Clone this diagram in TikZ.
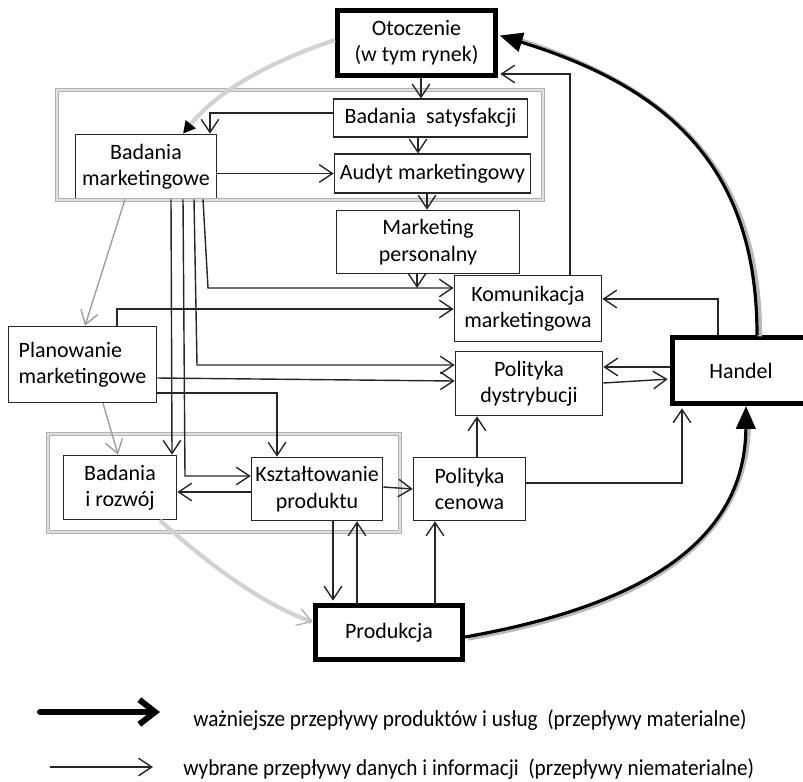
\documentclass[tikz,border=0pt]{standalone}
\usepackage{fontspec}
\setmainfont{Carlito}
\newfontfamily\legfont[FakeStretch=0.93]{Carlito}
\usepackage{tikz}
\usetikzlibrary{arrows.meta}
\usetikzlibrary{positioning}

\begin{document}
\begin{tikzpicture}[x=0.02cm,y=-0.02cm,
  box/.style={draw=black!85,line width=0.9pt,fill=white,align=center,inner sep=1pt,font=\fontsize{12.5}{15}\selectfont},
  bigbox/.style={box,draw=black,line width=2.6pt},
  grp/.style={draw=gray!60,line width=0.7pt,double=gray!25,double distance=1.4pt},
  flow/.style={draw=black!85,line width=0.8pt,-{Straight Barb[length=7.5pt,width=10pt]}},
  gflow/.style={draw=gray!75,line width=0.8pt,-{Straight Barb[length=7.5pt,width=10pt]}},
  mat/.style={draw=black,line width=1.8pt,-{Triangle[length=13pt,width=11pt]}},
  matsh/.style={draw=gray!55,line width=2.6pt},
  inf/.style={draw=gray!35,line width=2.4pt}]
\useasboundingbox (0,0) rectangle (803,781);

% the blocks
\node[bigbox,minimum width=3.17cm,minimum height=1.31cm] (oto) at (416.5,43) {Otoczenie\\(w tym rynek)};
\node[box,minimum width=3.88cm,minimum height=0.75cm] (bsat) at (430.5,118) {Badania\ \ satysfakcji};
\node[box,minimum width=3.92cm,minimum height=0.77cm] (aud) at (432.5,173.5) {Audyt marketingowy};
\node[box,minimum width=2.82cm,minimum height=1.28cm] (bm) at (146,166.5) {Badania\\marketingowe};
\node[box,minimum width=3.66cm,minimum height=1.26cm] (mp) at (428,242) {Marketing\\personalny};
\node[box,minimum width=2.94cm,minimum height=1.32cm] (kom) at (528,308.5) {Komunikacja\\marketingowa};
\node[box,minimum width=2.94cm,minimum height=1.28cm] (pd) at (529,383.5) {Polityka\\dystrybucji};
\node[bigbox,minimum width=2.75cm,minimum height=1.33cm] (han) at (741,370.5) {Handel};
\node[box,align=left,minimum width=2.96cm,minimum height=1.52cm] (pm) at (82.5,364.5) {Planowanie\\marketingowe};
\node[box,minimum width=2.26cm,minimum height=1.28cm] (br) at (120,487.5) {Badania\\i rozwój};
\node[box,minimum width=2.62cm,minimum height=1.26cm] (ksz) at (317,489) {Kształtowanie\\produktu};
\node[box,minimum width=2.24cm,minimum height=1.26cm] (pc) at (469.5,489) {Polityka\\cenowa};
\node[bigbox,minimum width=2.95cm,minimum height=1.09cm] (pro) at (389,632.5) {Produkcja};

% groups
\draw[grp] (57,90) rectangle (543,200);
\draw[grp] (48,434) rectangle (400,532);

% circle of flows
\draw[inf,-{Triangle[length=7pt,width=7pt,color=black]}] (oto.west |- 0,40) .. controls (278,59) and (221,87) .. (bm.north -| 183,0);
\draw[inf,-{Straight Barb[length=8pt,width=10pt,line width=0.8pt,color=gray!60]}] (br.south -| 160,0) .. controls (200,557) and (260,604) .. (pro.west |- 0,622);
\begin{scope}[transform canvas={xshift=1.6pt,yshift=-0.8pt}]
\draw[matsh] (pro.east |- 0,637) .. controls (605,612) and (745,560) .. (746,420);
\draw[matsh] (han.north -| 757,0) .. controls (757,160) and (660,85) .. (515,38);
\end{scope}
\draw[mat] (pro.east |- 0,637) .. controls (605,612) and (745,560) .. (han.south -| 746,0);
\draw[mat,shorten >=1pt] (han.north -| 757,0) .. controls (757,160) and (660,85) .. (oto.east |- 0,35);

% data and information
\coordinate (mpj) at (417,288);
\draw[flow] (oto.south -| 421,0) -- (bsat.north -| 421,0);
\draw[flow] (bsat.west |- 0,113) -| (bm.north -| 210,0);
\draw[flow] (bsat.south -| 418,0) -- (aud.north -| 418,0);
\draw[flow] (bm.east |- aud.west) -- (aud.west);
\draw[flow] (aud.south -| 427,0) -- (mp.north -| 427,0);
\draw[flow] (mp.south -| 417,0) -- (mpj);
\draw[flow] (bm.south -| 203,0) -- (208,288) -- (kom.west |- mpj);
\draw[flow] (bm.south -| 194,0) -- (197,365) -- (pd.west |- 0,365);
\draw[flow] (bm.south -| 183,0) -- (185,476) -- (ksz.west |- 0,476);
\draw[flow] (bm.south -| 171,0) -- (br.north -| 172,0);
\draw[flow] (pm.north -| 117,0) |- (kom.west |- 0,309);
\draw[flow] (pm.east |- 0,378) -- (pd.west |- 0,381);
\draw[flow] (pm.east |- 0,393) -| (ksz.north -| 277,0);
\draw[gflow] (bm.south -| 125,0) -- (pm.north -| 85,0);
\draw[gflow] (pm.south -| 103,0) -- (br.north -| 118,0);
\draw[flow] (ksz.west |- 0,492) -- (br.east |- 0,492);
\draw[flow] (ksz.east |- 0,487) -- (pc.west |- 0,489);
\draw[flow,shorten >=1.3pt] (ksz.south -| 333,0) -- (pro.north -| 333,0);
\draw[flow] (pro.north -| 357,0) -- (ksz.south -| 357,0);
\draw[flow] (pro.north -| 435,0) -- (pc.south -| 435,0);
\draw[flow] (pc.north -| 477,0) -- (pd.south -| 477,0);
\draw[flow,shorten >=1.3pt] (pc.east |- 0,483) -| (han.south -| 682,0);
\draw[flow] (han.west |- 0,367) -- (pd.east |- 0,367);
\draw[flow,shorten >=1.3pt] (pd.east |- 0,383) -- (han.west |- 0,379);
\draw[flow] (han.north -| 718,0) |- (kom.east |- 0,299);
\draw[flow,shorten >=1.3pt] (kom.north -| 570,0) |- (oto.east |- 0,74);

% legend
\coordinate (lg1) at (40,712);
\coordinate (lg2) at (50,767);
\node[anchor=base west,inner sep=0,font=\legfont\fontsize{13}{15}\selectfont] (lt1) at (193,726) {ważniejsze przepływy produktów i usług\ \ (przepływy materialne)};
\node[anchor=base west,inner sep=0,font=\legfont\fontsize{13}{15}\selectfont] (lt2) at (183,775) {wybrane przepływy danych i informacji\ \ (przepływy niematerialne)};
\draw[line width=3.4pt,line cap=round,-{Straight Barb[length=9pt,width=14pt]}] (lg1) -- (lg1 -| 160,0);
\draw[flow] (lg2) -- (lg2 -| 153,0);
\end{tikzpicture}
\end{document}
